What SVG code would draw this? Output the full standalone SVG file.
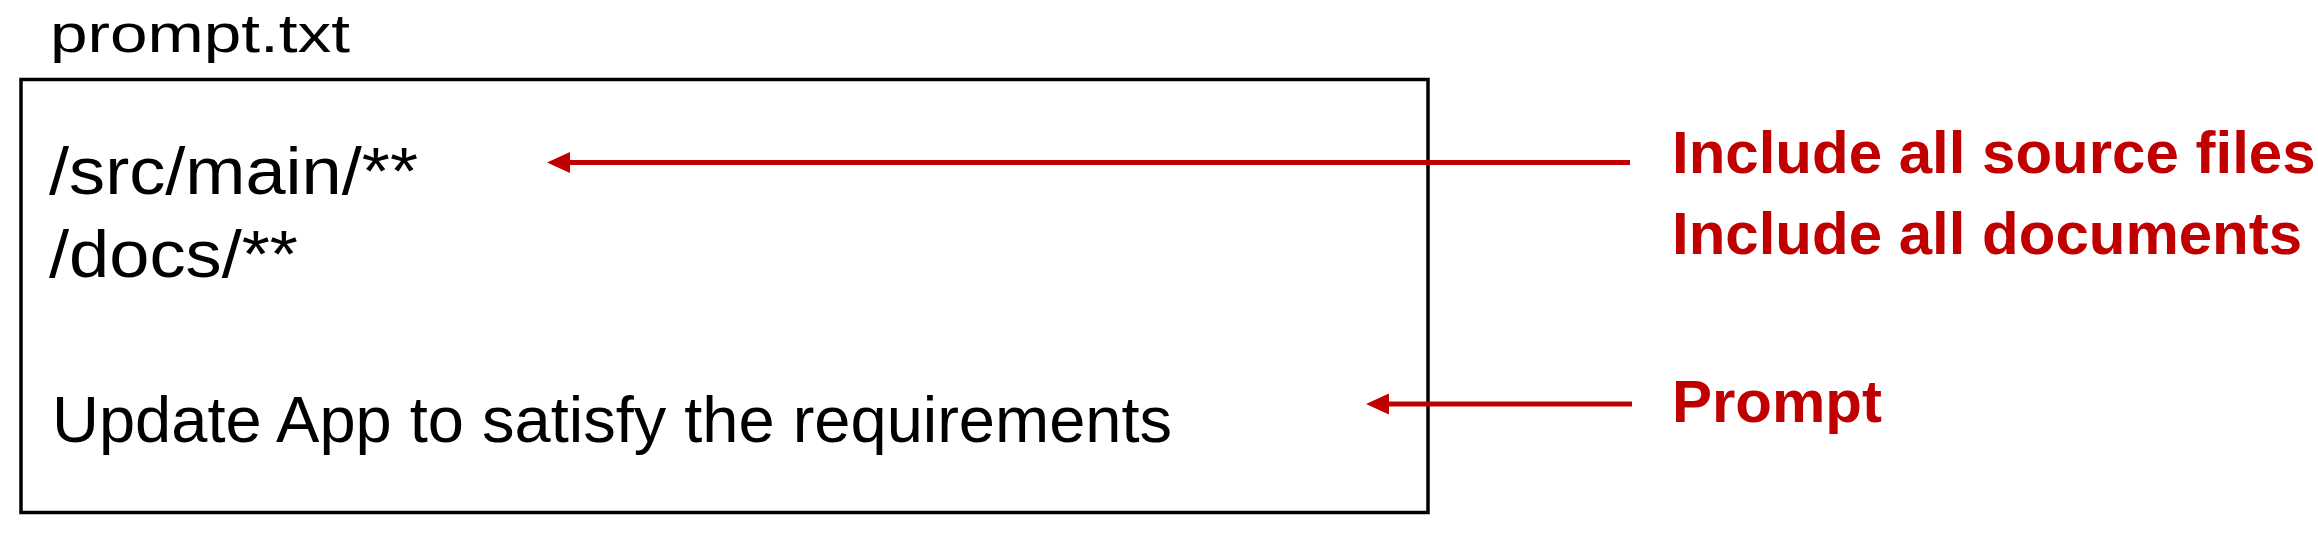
<svg xmlns="http://www.w3.org/2000/svg" width="2318" height="542" viewBox="0 0 2318 542">
  <style>
    .body { font-family: "Liberation Sans", Arial, sans-serif; font-size: 66px; fill: #000000; }
    .title { font-family: "Liberation Sans", Arial, sans-serif; font-size: 54px; fill: #000000; }
    .line { font-family: "Liberation Sans", Arial, sans-serif; font-size: 65px; fill: #000000; }
    .note { font-family: "Liberation Sans", Arial, sans-serif; font-size: 60px; font-weight: bold; fill: #C00000; }
    .box { fill: #FFFFFF; stroke: #000000; stroke-width: 3.5; }
    .conn { stroke: #C00000; stroke-width: 5; fill: none; marker-end: url(#ah); }
  </style>
  <defs>
    <marker id="ah" markerUnits="userSpaceOnUse" markerWidth="24" markerHeight="22" viewBox="0 0 24 22" refX="10" refY="10.5" orient="auto">
      <path d="M0,0 L23,10.5 L0,21 Z" fill="#C00000"/>
    </marker>
  </defs>
  <rect width="2318" height="542" fill="#FFFFFF"/>

  <g id="file-title">
    <text class="title" x="50" y="52" textLength="300" lengthAdjust="spacingAndGlyphs">prompt.txt</text>
  </g>

  <g id="prompt-file">
    <rect class="box" x="21" y="79.5" width="1407" height="433"/>
    <text class="body" x="49" y="194" textLength="369" lengthAdjust="spacingAndGlyphs">/src/main/**</text>
    <text class="body" x="49" y="277" textLength="249" lengthAdjust="spacingAndGlyphs">/docs/**</text>
    <text class="line" x="52" y="442" textLength="1120" lengthAdjust="spacingAndGlyphs">Update App to satisfy the requirements</text>
  </g>

  <g id="label-include">
    <text class="note" x="1672" y="173">Include all source files</text>
    <text class="note" x="1672" y="254">Include all documents</text>
  </g>

  <g id="label-prompt">
    <text class="note" x="1672" y="422">Prompt</text>
  </g>

  <g id="connectors">
    <line class="conn" x1="1630" y1="162.5" x2="560" y2="162.5"/>
    <line class="conn" x1="1632" y1="404" x2="1379" y2="404"/>
  </g>
</svg>
